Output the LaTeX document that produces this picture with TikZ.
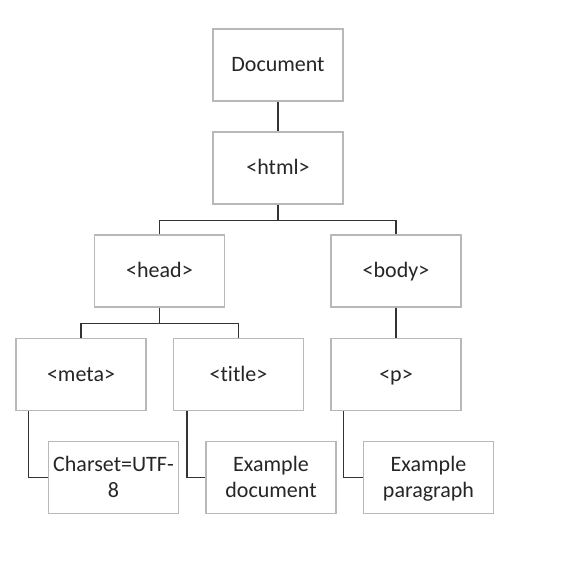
\documentclass[tikz,border=0pt]{standalone}
\usepackage{fontspec}
\setmainfont[Ligatures=NoCommon]{Carlito}
\newcommand\vstr{\rule[-6pt]{0pt}{26pt}}
\begin{document}
\begin{tikzpicture}[x=1pt,y=-1pt,
  box/.style={draw=black!28,line width=1.2pt,fill=white,minimum width=130pt,minimum height=72pt,inner sep=0pt,font=\fontsize{22}{27}\selectfont,align=center,text=black!85},
  conn/.style={draw=black!80,line width=1.6pt}]
\useasboundingbox (0,0) rectangle (582,564);
\node[box] (doc) at (278,65) {\vstr Document};
\node[box] (html) at (278,168) {\vstr <html>};
\node[box] (head) at (159.5,271) {\vstr <head>};
\node[box] (body) at (396,271) {\vstr <body>};
\node[box] (meta) at (81,374.5) {\vstr <meta>};
\node[box] (title) at (238.5,374.5) {\vstr <title>};
\node[box] (p) at (396,374.5) {\vstr <p>};
\node[box] (cs) at (113.5,477.5) {\vstr Charset=UTF-\\\vstr 8};
\node[box] (ed) at (271,477.5) {\vstr Example\\\vstr document};
\node[box] (ep) at (428.5,477.5) {\vstr Example\\\vstr paragraph};
\draw[conn] (doc.south) -- (html.north);
\draw[conn] (html.south) -- ++(0,16) -| (head.north);
\draw[conn] (html.south) -- ++(0,16) -| (body.north);
\draw[conn] (head.south) -- ++(0,16) -| (meta.north);
\draw[conn] (head.south) -- ++(0,16) -| (title.north);
\draw[conn] (body.south) -- (p.north);
\draw[conn] ([xshift=13pt]meta.south west) |- (cs.west);
\draw[conn] ([xshift=14pt]title.south west) |- (ed.west);
\draw[conn] ([xshift=13pt]p.south west) |- (ep.west);
\end{tikzpicture}
\end{document}
